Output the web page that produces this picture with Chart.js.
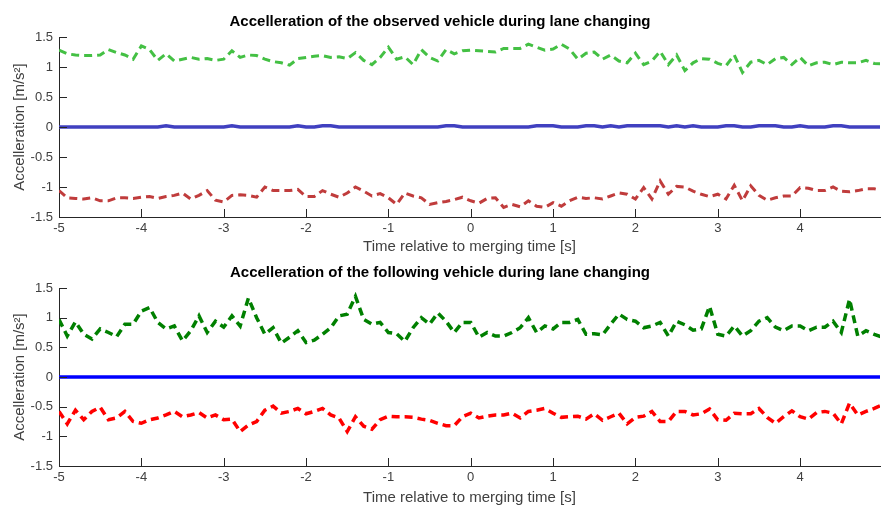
<!DOCTYPE html>
<html>
<head>
<meta charset="utf-8">
<script src="https://cdn.jsdelivr.net/npm/chart.js@4"></script>
<style>
  body { margin: 0; background: #fff; }
  #wrap { position: relative; width: 881px; height: 507px; overflow: hidden; }
  canvas { position: absolute; left: 0; }
  #grafTop { top: 0; }
  #grafBot { top: 251px; }
</style>
</head>
<body>
<div id="wrap">
  <canvas id="grafTop" width="881" height="256"></canvas>
  <canvas id="grafBot" width="881" height="256"></canvas>
</div>
<script>
// tiempo relativo al instante de incorporación [s]
const tiempo = [
  -5, -4.9, -4.8, -4.7, -4.6, -4.5, -4.4, -4.3, -4.2, -4.1,
  -4, -3.9, -3.8, -3.7, -3.6, -3.5, -3.4, -3.3, -3.2, -3.1,
  -3, -2.9, -2.8, -2.7, -2.6, -2.5, -2.4, -2.3, -2.2, -2.1,
  -2, -1.9, -1.8, -1.7, -1.6, -1.5, -1.4, -1.3, -1.2, -1.1,
  -1, -0.9, -0.8, -0.7, -0.6, -0.5, -0.4, -0.3, -0.2, -0.1,
  0, 0.1, 0.2, 0.3, 0.4, 0.5, 0.6, 0.7, 0.8, 0.9,
  1, 1.1, 1.2, 1.3, 1.4, 1.5, 1.6, 1.7, 1.8, 1.9,
  2, 2.1, 2.2, 2.3, 2.4, 2.5, 2.6, 2.7, 2.8, 2.9,
  3, 3.1, 3.2, 3.3, 3.4, 3.5, 3.6, 3.7, 3.8, 3.9,
  4, 4.1, 4.2, 4.3, 4.4, 4.5, 4.6, 4.7, 4.8, 4.9, 5
];

const xTicks = [-5, -4, -3, -2, -1, 0, 1, 2, 3, 4];
const yTicks = [-1.5, -1, -0.5, 0, 0.5, 1, 1.5];

const tituloTop = "Accelleration of the observed vehicle during lane changing";
const tituloBot = "Accelleration of the following vehicle during lane changing";
const etiquetaX = "Time relative to merging time [s]";
const etiquetaY = "Accelleration [m/s\u00B2]";

// vehículo observado
const verdeTop = [
  1.28, 1.22, 1.2, 1.19, 1.19, 1.2, 1.29, 1.24, 1.2, 1.13,
  1.35, 1.29, 1.11, 1.22, 1.1, 1.13, 1.16, 1.13, 1.14, 1.11,
  1.13, 1.27, 1.16, 1.2, 1.19, 1.13, 1.09, 1.07, 1.03, 1.14,
  1.16, 1.18, 1.19, 1.16, 1.17, 1.14, 1.24, 1.11, 1.04, 1.16,
  1.33, 1.13, 1.17, 1.04, 1.29, 1.16, 1.1, 1.29, 1.22, 1.27,
  1.28, 1.27, 1.26, 1.25, 1.31, 1.31, 1.31, 1.38, 1.33, 1.28,
  1.3, 1.38, 1.3, 1.13, 1.23, 1.25, 1.13, 1.2, 1.1, 1.07,
  1.23, 1.04, 1.1, 1.26, 1.04, 1.2, 0.94, 1.07, 1.14, 1.13,
  1.06, 1.02, 1.2, 0.91, 1.08, 1.11, 1.04, 1.14, 1.16, 1.04,
  1.16, 1.02, 1.07, 1.08, 1.04, 1.08, 1.07, 1.07, 1.11, 1.06, 1.05
];
const azulTop = [
  0, 0, 0, 0, 0, 0, 0, 0, 0, 0,
  0, 0, 0, 0.02, 0, 0, 0, 0, 0, 0,
  0, 0.02, 0, 0, 0, 0, 0, 0, 0, 0.02,
  0, 0, 0.02, 0.02, 0, 0, 0, 0, 0, 0,
  0, 0, 0, 0, 0, 0, 0, 0.02, 0.02, 0,
  0, 0, 0, 0, 0, 0, 0, 0, 0.02, 0.02,
  0.02, 0, 0, 0, 0.02, 0.02, 0, 0.02, 0, 0.02,
  0.02, 0.02, 0.02, 0.02, 0, 0.02, 0, 0.02, 0, 0,
  0, 0.02, 0.02, 0, 0, 0.02, 0.02, 0.02, 0, 0,
  0.02, 0, 0, 0, 0.02, 0.02, 0, 0, 0, 0, 0
];
const rojoTop = [
  -1.06, -1.18, -1.19, -1.2, -1.18, -1.23, -1.23, -1.18, -1.18, -1.19,
  -1.17, -1.16, -1.19, -1.16, -1.14, -1.1, -1.2, -1.14, -1.06, -1.22,
  -1.25, -1.14, -1.13, -1.14, -1.17, -1.0, -1.06, -1.06, -1.06, -1.04,
  -1.16, -1.16, -1.06, -1.12, -1.17, -1.1, -1.0, -1.07, -1.15, -1.11,
  -1.18, -1.29, -1.1, -1.15, -1.18, -1.29, -1.26, -1.24, -1.21, -1.17,
  -1.23, -1.27, -1.19, -1.18, -1.34, -1.29, -1.33, -1.23, -1.32, -1.34,
  -1.26, -1.32, -1.23, -1.17, -1.19, -1.18, -1.2, -1.15, -1.1, -1.12,
  -1.2, -1.01, -1.2, -0.9, -1.12, -0.99, -1.0, -1.07, -1.12, -1.16,
  -1.12, -1.2, -0.97, -1.23, -0.98, -1.14, -1.22, -1.18, -1.15, -1.15,
  -1.01, -1.02, -1.06, -1.06, -1.0, -1.07, -1.08, -1.06, -1.03, -1.03, -1.06
];

// vehículo que sigue
const verdeBot = [
  0.97, 0.69, 0.93, 0.72, 0.64, 0.81, 0.75, 0.68, 0.89, 0.89,
  1.11, 1.17, 0.92, 0.81, 0.86, 0.61, 0.78, 1.03, 0.75, 0.94,
  0.84, 1.03, 0.86, 1.33, 1.0, 0.72, 0.83, 0.57, 0.67, 0.78,
  0.58, 0.62, 0.72, 0.83, 1.03, 1.06, 1.36, 0.97, 0.89, 0.92,
  0.75, 0.73, 0.6, 0.83, 1.0, 0.89, 1.08, 0.94, 0.75, 0.92,
  0.92, 0.67, 0.75, 0.69, 0.69, 0.75, 0.83, 1.0, 0.75, 0.86,
  0.81, 0.92, 0.92, 0.97, 0.72, 0.73, 0.71, 0.89, 1.06, 0.97,
  0.94, 0.83, 0.86, 0.92, 0.69, 0.94, 0.88, 0.79, 0.81, 1.19,
  0.72, 0.69, 0.86, 0.69, 0.78, 0.94, 1.0, 0.84, 0.78, 0.86,
  0.86, 0.78, 0.84, 0.84, 0.94, 0.75, 1.31, 0.69, 0.78, 0.72, 0.67
];
const azulBot = [
  0, 0, 0, 0, 0, 0, 0, 0, 0, 0,
  0, 0, 0, 0, 0, 0, 0, 0, 0, 0,
  0, 0, 0, 0, 0, 0, 0, 0, 0, 0,
  0, 0, 0, 0, 0, 0, 0, 0, 0, 0,
  0, 0, 0, 0, 0, 0, 0, 0, 0, 0,
  0, 0, 0, 0, 0, 0, 0, 0, 0, 0,
  0, 0, 0, 0, 0, 0, 0, 0, 0, 0,
  0, 0, 0, 0, 0, 0, 0, 0, 0, 0,
  0, 0, 0, 0, 0, 0, 0, 0, 0, 0,
  0, 0, 0, 0, 0, 0, 0, 0, 0, 0, 0
];
const rojoBot = [
  -0.58, -0.79, -0.56, -0.72, -0.58, -0.51, -0.72, -0.69, -0.58, -0.75,
  -0.78, -0.72, -0.69, -0.64, -0.58, -0.67, -0.64, -0.6, -0.69, -0.64,
  -0.72, -0.71, -0.92, -0.81, -0.75, -0.56, -0.49, -0.61, -0.58, -0.53,
  -0.62, -0.58, -0.53, -0.64, -0.69, -0.92, -0.67, -0.83, -0.88, -0.72,
  -0.66, -0.67, -0.67, -0.68, -0.71, -0.73, -0.78, -0.82, -0.82, -0.67,
  -0.61, -0.69, -0.66, -0.64, -0.64, -0.61, -0.69, -0.58, -0.56, -0.53,
  -0.61, -0.68, -0.67, -0.66, -0.71, -0.62, -0.73, -0.67, -0.61, -0.79,
  -0.68, -0.66, -0.58, -0.75, -0.75, -0.58, -0.58, -0.64, -0.62, -0.54,
  -0.72, -0.73, -0.61, -0.62, -0.62, -0.53, -0.68, -0.78, -0.67, -0.57,
  -0.67, -0.71, -0.6, -0.58, -0.61, -0.79, -0.44, -0.64, -0.58, -0.53, -0.47
];

const colorEje = "#262626";
const colorTexto = "#404040";
const fuente = "'Liberation Sans', Arial, Helvetica, sans-serif";

// marcas de los ejes hacia dentro, como en MATLAB
const marcasDentro = {
  id: "marcasDentro",
  afterDatasetsDraw(chart) {
    const { ctx, chartArea: a, scales: { x, y } } = chart;
    ctx.save();
    ctx.strokeStyle = colorEje;
    ctx.lineWidth = 1;
    ctx.beginPath();
    x.ticks.forEach(t => {
      const px = Math.round(x.getPixelForValue(t.value)) + 0.5;
      ctx.moveTo(px, a.bottom);
      ctx.lineTo(px, a.bottom - 8);
    });
    y.ticks.forEach(t => {
      const py = Math.round(y.getPixelForValue(t.value)) + 0.5;
      ctx.moveTo(a.left, py);
      ctx.lineTo(a.left + 8, py);
    });
    ctx.stroke();
    ctx.restore();
  }
};

function serie(valores, color, ancho, guiones) {
  return {
    data: valores.map((v, i) => ({ x: tiempo[i], y: v })),
    borderColor: color,
    borderWidth: ancho,
    borderDash: guiones,
    pointRadius: 0,
    tension: 0,
    fill: false
  };
}

function crearGrafica(idCanvas, titulo, series, altoEjeX) {
  const ctx = document.getElementById(idCanvas).getContext("2d");
  return new Chart(ctx, {
    type: "line",
    data: { datasets: series },
    options: {
      responsive: false,
      animation: false,
      devicePixelRatio: 1,
      events: [],
      layout: { padding: { left: 0, right: 1, top: 0, bottom: 0 } },
      plugins: {
        legend: { display: false },
        tooltip: { enabled: false },
        title: {
          display: true,
          text: titulo,
          color: "#000",
          font: { family: fuente, size: 15, weight: "bold" },
          padding: { top: 13, bottom: 6 }
        }
      },
      scales: {
        x: {
          type: "linear",
          min: -5,
          max: 4.97,
          afterBuildTicks: s => { s.ticks = xTicks.map(v => ({ value: v })); },
          afterFit: s => { s.height = altoEjeX; },
          grid: { display: false, drawTicks: false },
          border: { display: true, color: colorEje, width: 1 },
          ticks: {
            color: colorTexto,
            font: { family: fuente, size: 13 },
            padding: 4,
            maxRotation: 0,
            callback: v => String(v)
          },
          title: {
            display: true,
            text: etiquetaX,
            color: colorTexto,
            font: { family: fuente, size: 15 },
            padding: { top: 0, bottom: 0 }
          }
        },
        y: {
          min: -1.5,
          max: 1.5,
          afterBuildTicks: s => { s.ticks = yTicks.map(v => ({ value: v })); },
          afterFit: s => { s.width = 59; },
          grid: { display: false, drawTicks: false },
          border: { display: true, color: colorEje, width: 1 },
          ticks: {
            color: colorTexto,
            font: { family: fuente, size: 13 },
            padding: 6,
            callback: v => String(v)
          },
          title: {
            display: true,
            text: etiquetaY,
            color: colorTexto,
            font: { family: fuente, size: 15 },
            padding: { top: 11, bottom: 0 }
          }
        }
      }
    },
    plugins: [marcasDentro]
  });
}

crearGrafica("grafTop", tituloTop, [
  serie(verdeTop, "#44c044", 3, [8, 5]),
  serie(azulTop, "#4040c0", 3.5, []),
  serie(rojoTop, "#c03c3c", 3, [8, 5])
], 39);

crearGrafica("grafBot", tituloBot, [
  serie(verdeBot, "#008000", 3.5, [8, 5]),
  serie(azulBot, "#0000ff", 3.5, []),
  serie(rojoBot, "#ff0000", 3.5, [8, 5])
], 41);
</script>
</body>
</html>
